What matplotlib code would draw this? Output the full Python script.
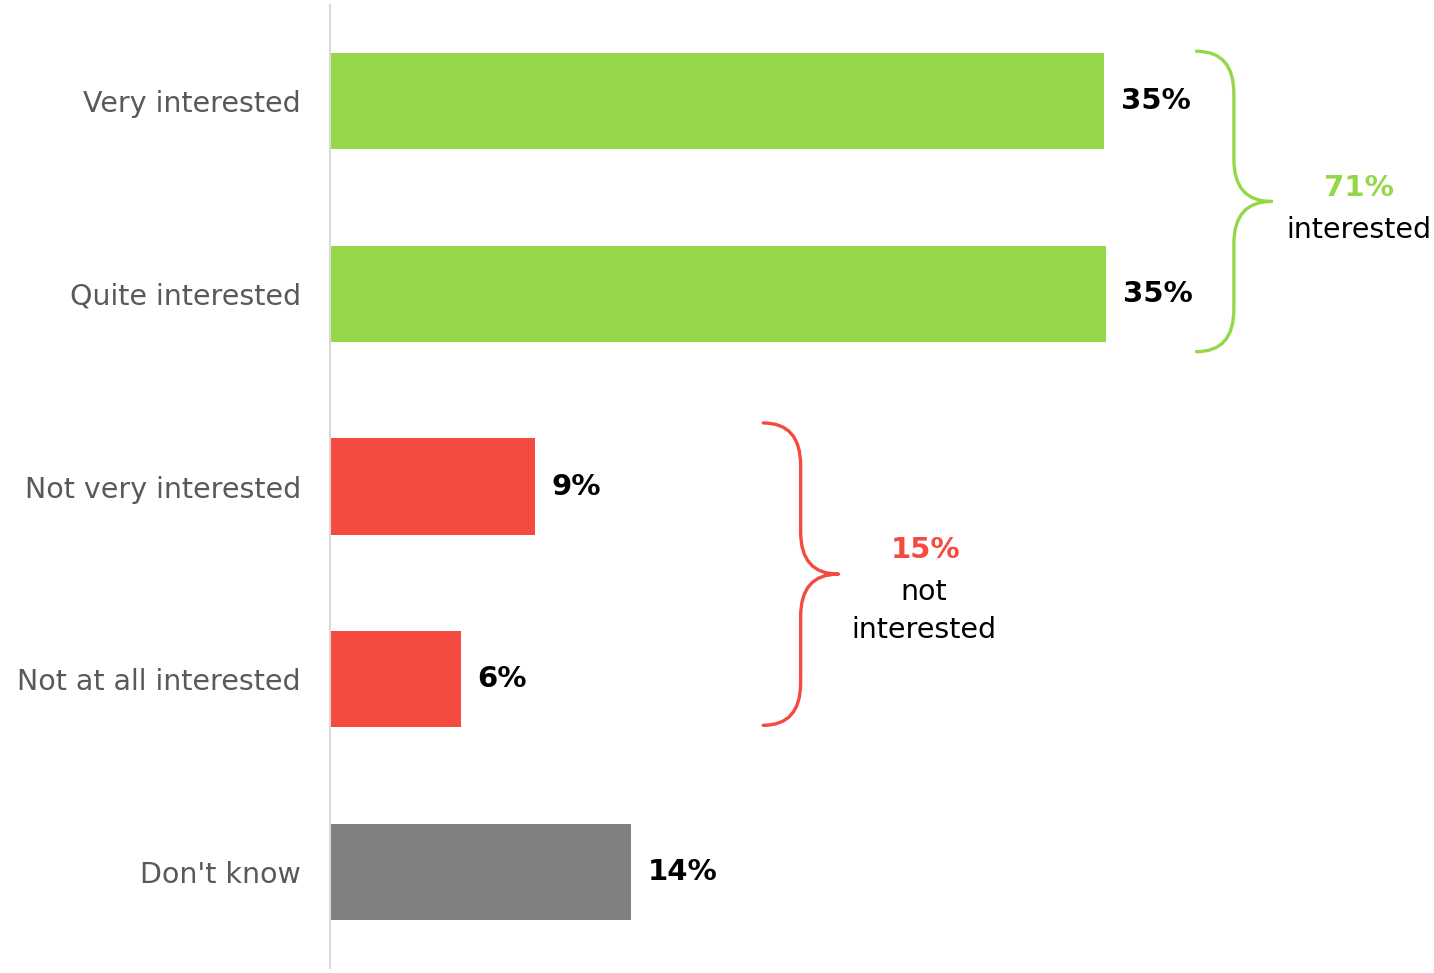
import matplotlib
matplotlib.use("Agg")
import matplotlib.pyplot as plt
from matplotlib.path import Path
from matplotlib.patches import PathPatch

categories = ["Very interested", "Quite interested", "Not very interested",
              "Not at all interested", "Don't know"]
values = [35.2, 35.3, 9.3, 5.95, 13.7]
value_labels = ["35%", "35%", "9%", "6%", "14%"]

GREEN = "#94D84A"
RED = "#F44A3F"
GREY = "#808080"
bar_colors = [GREEN, GREEN, RED, RED, GREY]

plt.rcParams["font.family"] = ["DejaVu Sans"]

fig = plt.figure(figsize=(14.34, 9.73), dpi=100)
ax = fig.add_axes([330 / 1434, 5 / 973, 1 - 330 / 1434, 963 / 973])

y = list(range(len(categories)))
ax.barh(y, values, height=0.5, color=bar_colors)
ax.set_xlim(0, 50.2)
ax.set_ylim(4.5, -0.5)

for yi, v, lab in zip(y, values, value_labels):
    ax.text(v + 0.75, yi, lab, va="center", ha="left", fontsize=21,
            fontweight="bold", color="black")

ax.set_yticks(y)
ax.set_yticklabels(categories, fontsize=20.5, color="#595959")
ax.tick_params(axis="y", length=0, pad=21)
ax.set_xticks([])
for side in ["top", "right", "bottom"]:
    ax.spines[side].set_visible(False)
ax.spines["left"].set_color("#D9D9D9")
ax.spines["left"].set_linewidth(1.5)


def draw_brace(ax, x0, xm, x1, ytop, ybot, color, r=0.22):
    """Right-pointing curly brace between ytop and ybot."""
    ymid = (ytop + ybot) / 2
    verts = [
        (x0, ytop), (xm, ytop), (xm, ytop + r),
        (xm, ymid - r),
        (xm, ymid), (x1, ymid),
        (x1, ymid), (xm, ymid), (xm, ymid + r),
        (xm, ybot - r),
        (xm, ybot), (x0, ybot),
    ]
    codes = [Path.MOVETO, Path.CURVE3, Path.CURVE3,
             Path.LINETO,
             Path.CURVE3, Path.CURVE3,
             Path.MOVETO, Path.CURVE3, Path.CURVE3,
             Path.LINETO,
             Path.CURVE3, Path.CURVE3]
    patch = PathPatch(Path(verts, codes), facecolor="none", edgecolor=color,
                      lw=2.4, clip_on=False, capstyle="round")
    ax.add_patch(patch)


draw_brace(ax, 39.4, 41.1, 42.8, -0.26, 1.30, GREEN)
draw_brace(ax, 19.7, 21.4, 23.1, 1.67, 3.24, RED)

ax.text(46.8, 0.45, "71%", ha="center", va="center", fontsize=21,
        fontweight="bold", color=GREEN)
ax.text(46.8, 0.67, "interested", ha="center", va="center", fontsize=20.5,
        color="black")
ax.text(27.1, 2.33, "15%", ha="center", va="center", fontsize=21,
        fontweight="bold", color=RED)
ax.text(27.0, 2.55, "not", ha="center", va="center", fontsize=20.5,
        color="black")
ax.text(27.0, 2.745, "interested", ha="center", va="center", fontsize=20.5,
        color="black")

fig.savefig("out.png", dpi=100)
